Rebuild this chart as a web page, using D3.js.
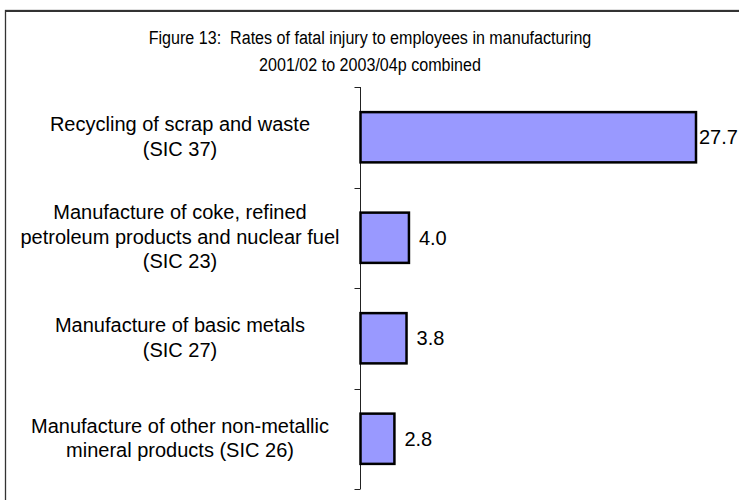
<!DOCTYPE html>
<html>
<head>
<meta charset="utf-8">
<script src="https://cdn.jsdelivr.net/npm/d3@7"></script>
<style>
  html, body { margin: 0; padding: 0; background: #ffffff; }
  svg { display: block; }
  text { font-family: "Liberation Sans", Arial, sans-serif; fill: #000; }
</style>
</head>
<body>
<script>
const titleLines = ["Figure 13:  Rates of fatal injury to employees in manufacturing", "2001/02 to 2003/04p combined"];
const categories = ["SIC 37", "SIC 23", "SIC 27", "SIC 26"];
const categoryLabels = [
  ["Recycling of scrap and waste", "(SIC 37)"],
  ["Manufacture of coke, refined", "petroleum products and nuclear fuel", "(SIC 23)"],
  ["Manufacture of basic metals", "(SIC 27)"],
  ["Manufacture of other non-metallic", "mineral products (SIC 26)"]
];
const values = [27.7, 4.0, 3.8, 2.8];

const W = 739, H = 500;
const svg = d3.select("body").append("svg").attr("width", W).attr("height", H);

// outer frame (extends past right/bottom edges as in the reference)
svg.append("rect").attr("x", 5.5).attr("y", 10.5).attr("width", W + 20).attr("height", H + 20)
  .attr("fill", "none").attr("stroke", "#333").attr("stroke-width", 1.3);
svg.append("line").attr("x1", 5).attr("x2", W).attr("y1", 11).attr("y2", 11)
  .attr("stroke", "#333").attr("stroke-width", 2);

// title (glyphs slightly taller than wide, as in the reference)
svg.append("g").selectAll("text").data(titleLines).join("text")
  .attr("transform", (d, i) => `translate(370,${44 + i * 27}) scale(1,1.18)`)
  .attr("text-anchor", "middle").style("font-size", "16.1px").style("white-space", "pre").text(d => d);

const x0 = 360.5;
const x = d3.scaleLinear().domain([0, 27.7]).range([x0, 696]);
const y = d3.scaleBand().domain(categories).range([87, 489]).paddingInner(0.5).paddingOuter(0.25);

// axis with ticks between categories
const yAxis = svg.append("g").attr("transform", `translate(${x0},0)`);
yAxis.append("line").attr("x1", 0).attr("x2", 0).attr("y1", 87).attr("y2", 489).attr("stroke", "#222");
const tickYs = d3.range(categories.length + 1).map(i => 87 + i * (489 - 87) / categories.length);
yAxis.selectAll("line.tk").data(tickYs).join("line").attr("class", "tk")
  .attr("x1", -6).attr("x2", 0).attr("y1", d => Math.round(d) + 0.5).attr("y2", d => Math.round(d) + 0.5)
  .attr("stroke", "#222");

// bars
svg.append("g").selectAll("rect").data(values).join("rect")
  .attr("x", x(0))
  .attr("y", (d, i) => y(categories[i]))
  .attr("width", d => x(d) - x(0))
  .attr("height", y.bandwidth())
  .attr("fill", "#9999ff").attr("stroke", "#000").attr("stroke-width", 2.5);

// value labels
svg.append("g").selectAll("text").data(values).join("text")
  .attr("x", d => Math.min(x(d) + 10, 699))
  .attr("y", (d, i) => y(categories[i]) + y.bandwidth() / 2 + 7)
  .style("font-size", "20px").text(d => d.toFixed(1));

// category labels
const lab = svg.append("g").selectAll("text").data(categoryLabels).join("text")
  .attr("text-anchor", "middle").style("font-size", "20px");
lab.each(function(lines, i) {
  const cy = y(categories[i]) + y.bandwidth() / 2;
  const lh = 24.5;
  const start = cy - (lines.length - 1) * lh / 2 + 6;
  d3.select(this).selectAll("tspan").data(lines).join("tspan")
    .attr("x", 180).attr("y", (d, j) => start + j * lh).text(d => d);
});
</script>
</body>
</html>
